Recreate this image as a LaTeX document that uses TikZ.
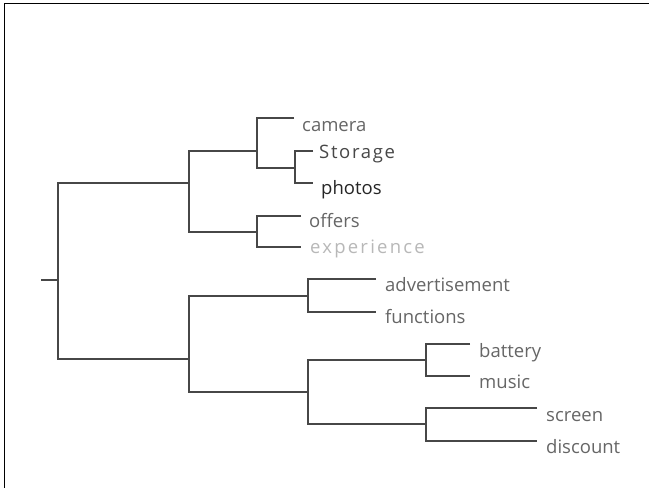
\documentclass[tikz,border=0pt]{standalone}
\usepackage{fontspec}
\setmainfont{Open Sans}
\begin{document}
\begin{tikzpicture}[x=1pt,y=-1pt,
  br/.style={draw=black!72,line width=1.4pt},
  lbl/.style={anchor=base west,inner sep=0pt,text=black!60,font=\fontsize{18.5}{20}\selectfont}]
\useasboundingbox[fill=white] (0,0) rectangle (649,488);
\draw[line width=1.5pt,black] (4.5,488) -- (4.5,3.5) -- (649,3.5);
% leaf labels
\node[lbl] (camera) at (302,131) {camera};
\node[lbl,text=black!72] (storage) at (319,158) {\addfontfeature{LetterSpace=9}Storage};
\node[lbl,text=black!85] (photos) at (321,194) {photos};
\node[lbl] (offers) at (309,227) {offers};
\node[lbl,text=black!28] (experience) at (310,253) {\addfontfeature{LetterSpace=12}experience};
\node[lbl] (adv) at (385,291) {advertisement};
\node[lbl] (func) at (385,323) {functions};
\node[lbl] (battery) at (479,357) {battery};
\node[lbl] (music) at (479,388) {music};
\node[lbl] (screen) at (546,421) {screen};
\node[lbl] (discount) at (546,453) {discount};
% leaf line ends
\coordinate (lcam) at (294,118);
\coordinate (lsto) at (313,151);
\coordinate (lpho) at (313,183);
\coordinate (loff) at (301,216);
\coordinate (lexp) at (301,247);
\coordinate (ladv) at (376,279);
\coordinate (lfun) at (376,312);
\coordinate (lbat) at (470,344);
\coordinate (lmus) at (470,376);
\coordinate (lscr) at (537,408);
\coordinate (ldis) at (537,441);
\coordinate (stub) at (41,280);
% brackets
\draw[br] (lsto) -| (295,183) -- (lpho);
\draw[br] (lcam) -| (257,168) -- (295,168);
\draw[br] (loff) -| (257,247) -- (lexp);
\draw[br] (257,151) -| (189,232) -- (257,232);
\draw[br] (ladv) -| (308,312) -- (lfun);
\draw[br] (lbat) -| (426,376) -- (lmus);
\draw[br] (lscr) -| (426,441) -- (ldis);
\draw[br] (426,360) -| (308,424) -- (426,424);
\draw[br] (308,296) -| (189,392) -- (308,392);
\draw[br] (189,183) -| (58,359) -- (189,359);
\draw[br] (stub) -- (58,280);
\end{tikzpicture}
\end{document}
